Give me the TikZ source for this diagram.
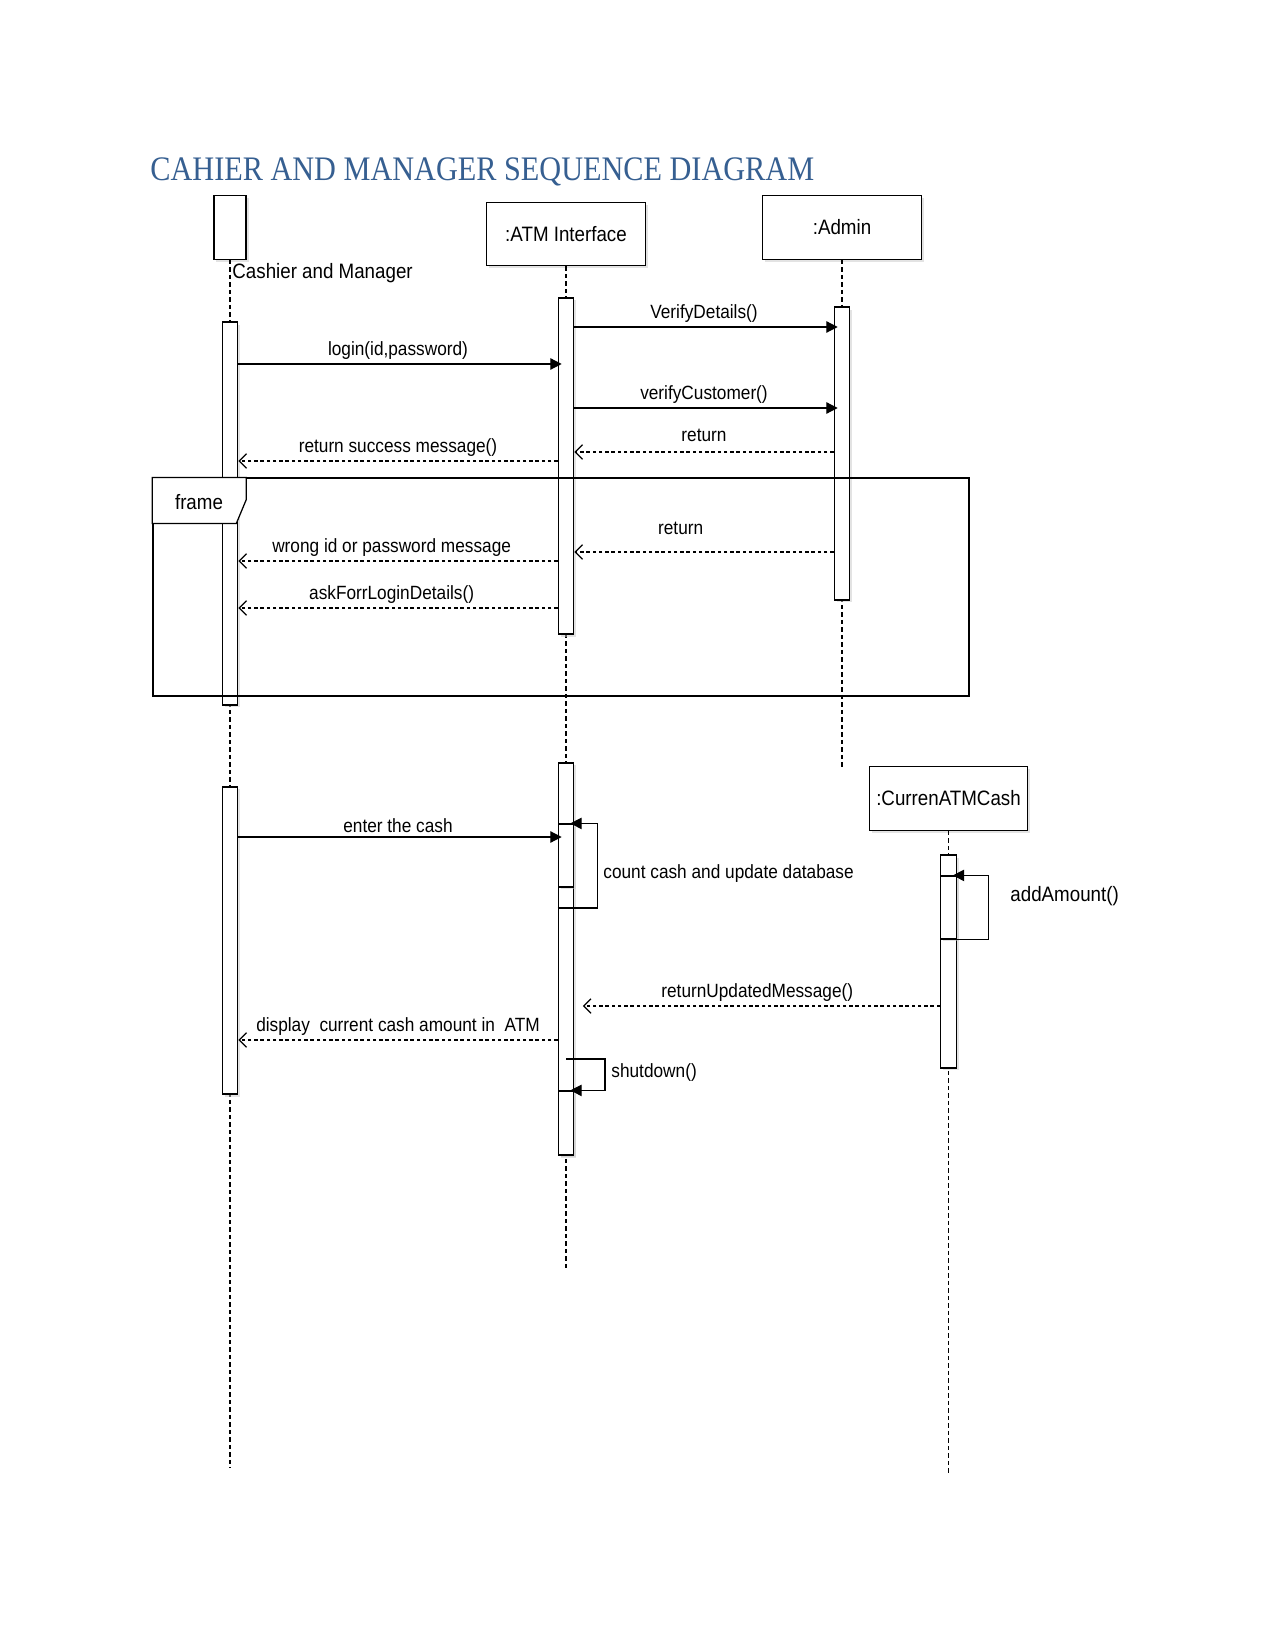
\documentclass[tikz,border=0pt]{standalone}
\usepackage{fontspec}
\setmainfont{Liberation Sans}[FakeStretch=0.9]
\newfontfamily\titlefont{Liberation Serif}[FakeStretch=0.88]
\usetikzlibrary{arrows.meta,shadows}
\definecolor{titleblue}{RGB}{54,95,145}

\begin{document}
\begin{tikzpicture}[x=0.48pt, y=-0.48pt,
  boxshadow/.style={drop shadow={shadow xshift=1.2pt, shadow yshift=-1.2pt, fill=black!22}},
  head/.style={draw, line width=0.6pt, fill=white, minimum width=76pt, minimum height=30.5pt,
    inner sep=0pt, font=\fontsize{10}{12}\selectfont, boxshadow},
  bar/.style={draw, line width=0.6pt, fill=white, minimum width=7.5pt, inner sep=0pt, boxshadow},
  lifeline/.style={line width=0.5pt, dash pattern=on 2pt off 1.6pt},
  call/.style={line width=0.6pt, shorten >=-2pt, -{Triangle[length=5.5pt,width=5.5pt]}},
  reply/.style={line width=0.6pt, dash pattern=on 1.6pt off 1.4pt, -{Straight Barb[length=3.5pt,width=7pt]}},
  lbl/.style={font=\fontsize{9.2}{11}\selectfont, inner sep=0pt, above=1.8pt}]
\useasboundingbox (0,0) rectangle (1275,1650);
% Title
\node[anchor=base west, inner sep=0pt, text=titleblue, font=\titlefont\fontsize{16.5}{20}\selectfont]
  (title) at (150,181) {CAHIER AND MANAGER SEQUENCE DIAGRAM};
% Lifeline heads
\node[head, minimum width=15.4pt] (cm) at (230,227.5) {};
\node[anchor=west, inner sep=0pt, font=\fontsize{10}{12}\selectfont] (cmname) at (232,273) {Cashier and Manager};
\node[head] (atm) at (566,234) {:ATM Interface};
\node[head] (adm) at (842,227.5) {:Admin};
\node[head] (cash) at (948.5,798.5) {:CurrenATMCash};
% Dashed lifelines
\foreach \n/\e in {cm/1468, atm/1271, adm/768, cash/1473}
  \draw[lifeline] (\n.south) -- (\n |- 0,\e);
% Activation bars
\node[bar, minimum height=183.8pt] (cm1) at (230,513.5) {};
\node[bar, minimum height=147.4pt] (cm2) at (230,940.5) {};
\node[bar, minimum height=161.3pt] (atm1) at (566,466) {};
\node[bar, minimum height=188.2pt] (atm2) at (566,959) {};
\node[bar, minimum height=30.2pt] (atm3) at (566,855.5) {};
\node[bar, minimum height=30.7pt] (atm4) at (566,1123) {};
\node[bar, minimum height=140.6pt] (adm1) at (842,453.5) {};
\node[bar, minimum height=102.2pt] (cash1) at (948.5,961.5) {};
\node[bar, minimum height=30.2pt] (cash2) at (948.5,907.5) {};
% Frame
\node[draw, line width=0.6pt, minimum width=391.7pt, minimum height=104.6pt] (frm) at (561,587) {};
\draw[line width=0.6pt, fill=white] (frm.north west) -- ++(94,0) -- ++(0,22) -- ++(-10,24) -- ++(-84,0) -- cycle;
\node[font=\fontsize{10}{12}\selectfont] (frmname) at (199,502) {frame};
% Login messages
\draw[call] (atm1.east |- 0,327) -- (adm1.west |- 0,327) node[lbl, midway] {VerifyDetails()};
\draw[call] (cm1.east |- 0,364) -- (atm1.west |- 0,364) node[lbl, midway] {login(id,password)};
\draw[call] (atm1.east |- 0,408) -- (adm1.west |- 0,408) node[lbl, midway] {verifyCustomer()};
\draw[reply] (adm1.west |- 0,452) -- (atm1.east |- 0,452) node[lbl, midway, above=3pt] {return};
\draw[reply] (atm1.west |- 0,461) -- (cm1.east |- 0,461) node[lbl, midway] {return success message()};
% Inside frame
\draw[reply] (adm1.west |- 0,552) -- (atm1.east |- 0,552) node[lbl, pos=0.59, above=6pt] {return};
\draw[reply] (atm1.west |- 0,561) -- (cm1.east |- 0,561) node[lbl, pos=0.52] {wrong id or password message};
\draw[reply] (atm1.west |- 0,608) -- (cm1.east |- 0,608) node[lbl, pos=0.52] {askForrLoginDetails()};
% Cash messages
\draw[call] (cm2.east |- 0,837) -- (atm2.west |- 0,837) node[lbl, midway] {enter the cash};
\draw[call] (atm2.west |- 0,908) -- ++(40,0) |- (atm3.north east);
\node[anchor=west, inner sep=0pt, font=\fontsize{9.2}{11}\selectfont] (countlbl) at (603,874) {count cash and update database};
\draw[call] (cash2.south) -- ++(40,0) |- (cash2.north east);
\node[anchor=west, inner sep=0pt, font=\fontsize{10}{12}\selectfont] (addlbl) at (1010,896) {addAmount()};
\draw[reply, shorten >=4pt] (cash1.west |- 0,1006) -- (atm2.east |- 0,1006) node[lbl, midway] {returnUpdatedMessage()};
\draw[reply] (atm2.west |- 0,1040) -- (cm2.east |- 0,1040) node[lbl, midway] {display\ \ current cash amount in\ \ ATM};
\draw[call] (atm2 |- 0,1059) -- ++(39,0) |- (atm4.north east);
\node[anchor=west, inner sep=0pt, font=\fontsize{9.2}{11}\selectfont] (shutlbl) at (611,1073) {shutdown()};
\end{tikzpicture}
\end{document}
